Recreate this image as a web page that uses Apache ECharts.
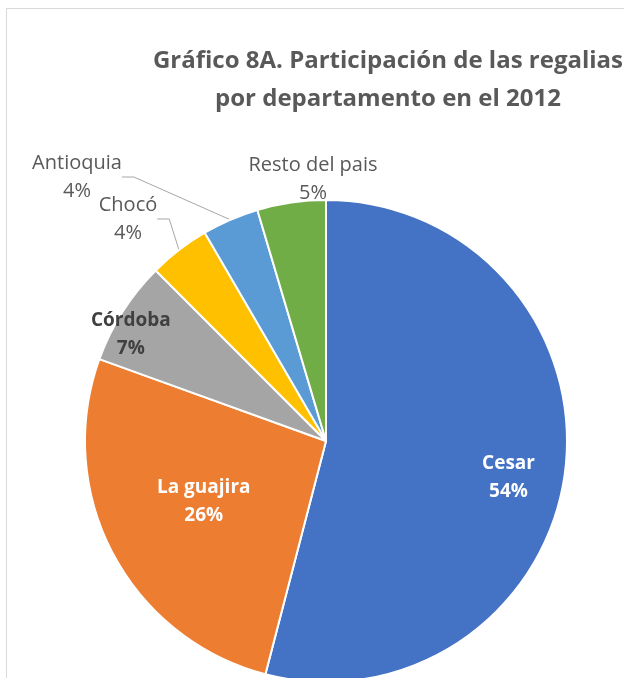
<!DOCTYPE html>
<html>
<head>
<meta charset="utf-8">
<script src="https://cdn.jsdelivr.net/npm/echarts@6/dist/echarts.min.js"></script>
<style>
  html, body { margin: 0; padding: 0; background: #ffffff; }
  #frame {
    position: absolute; left: 6px; top: 8px;
    width: 800px; height: 800px;
    border: 1px solid #d9d9d9;
  }
  #chart { position: absolute; left: 0; top: 0; width: 624px; height: 678px; }
</style>
</head>
<body>
<div id="frame"></div>
<div id="chart"></div>
<script>
const departamentos = ['Cesar', 'La guajira', 'Córdoba', 'Chocó', 'Antioquia', 'Resto del pais']
const participacion = [54.1, 26.5, 7.0, 4.1, 3.8, 4.6]
const etiquetas = ['54%', '26%', '7%', '4%', '4%', '5%']
const colores = ['#4472C4', '#ED7D31', '#A5A5A5', '#FFC000', '#5B9BD5', '#70AD47']

const FONT = '"Open Sans", Lato, sans-serif'

// label styles: inside labels are bold, outside ones plain gray
const labelStyles = [
  { position: 'inside', color: '#ffffff', fontWeight: 'bold', fontSize: 19 },
  { position: 'inside', color: '#ffffff', fontWeight: 'bold', fontSize: 19 },
  { position: 'inside', color: '#404040', fontWeight: 'bold', fontSize: 19 },
  { position: 'outside', color: '#595959', fontWeight: 'normal', fontSize: 20 },
  { position: 'outside', color: '#595959', fontWeight: 'normal', fontSize: 20 },
  { position: 'outside', color: '#595959', fontWeight: 'normal', fontSize: 20 },
]

// nudges of the labels from the library's default place
const labelShift = [
  { dx: 60, dy: 21 },
  { dx: -13, dy: 3 },
  { dx: -91, dy: -40 },
  { x: 128, y: 219 },
  { x: 77, y: 177 },
  { x: 313, y: 179 },
]

const chart = echarts.init(document.getElementById('chart'), null, { renderer: 'canvas' })

const data = departamentos.map((name, i) => ({
  name,
  value: participacion[i],
  itemStyle: { color: colores[i] },
  label: {
    position: labelStyles[i].position,
    color: labelStyles[i].color,
    fontWeight: labelStyles[i].fontWeight,
    fontSize: labelStyles[i].fontSize,
  },
  labelLine: { show: i === 3 || i === 4 },
}))

chart.setOption({
  animation: false,
  title: {
    text: 'Gráfico 8A. Participación de las regalias\npor departamento en el 2012',
    left: 383,
    top: 37,
    textAlign: 'center',
    textStyle: {
      fontFamily: FONT,
      fontSize: 24,
      fontWeight: 'bold',
      color: '#595959',
      lineHeight: 38,
    },
  },
  series: [
    {
      type: 'pie',
      center: [326, 441],
      radius: 241,
      startAngle: 90,
      clockwise: true,
      avoidLabelOverlap: false,
      itemStyle: { borderColor: '#ffffff', borderWidth: 2 },
      label: {
        fontFamily: FONT,
        lineHeight: 28,
        align: 'center',
        formatter: (p) => `${p.name}\n${etiquetas[p.dataIndex]}`,
      },
      labelLine: {
        length: 10,
        length2: 12,
        lineStyle: { color: '#a6a6a6', width: 1 },
      },
      labelLayout: (params) => {
        const s = labelShift[params.dataIndex]
        if (s.x !== undefined) {
          return { x: s.x, y: s.y, align: 'center', verticalAlign: 'middle' }
        }
        return { dx: s.dx, dy: s.dy }
      },
      data,
    },
  ],
})
</script>
</body>
</html>
